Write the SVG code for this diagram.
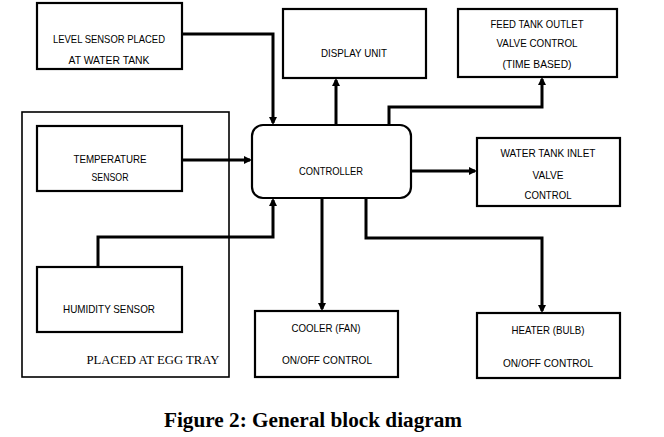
<svg xmlns="http://www.w3.org/2000/svg" width="664" height="437" viewBox="0 0 664 437">
<style>
.box{fill:#fff;stroke:#000;stroke-width:2.2}
.t{font-family:"Liberation Sans",Arial,sans-serif;font-size:10.5px;text-anchor:middle;fill:#000}
.c{fill:none;stroke:#000;stroke-width:3}
</style>
<defs>
<marker id="ah" markerWidth="8" markerHeight="8" refX="6" refY="4" orient="auto" markerUnits="userSpaceOnUse">
<path d="M0,0 L8,4 L0,8 Z" fill="#000"/>
</marker>
</defs>
<rect width="664" height="437" fill="#fff"/>
<g id="egg-tray">
<rect x="22" y="112" width="207" height="265" fill="none" stroke="#000" stroke-width="1.6"/>
<text x="153" y="364" font-family="Liberation Serif,serif" font-size="13" text-anchor="middle" fill="#000" textLength="133" lengthAdjust="spacingAndGlyphs">PLACED AT EGG TRAY</text>
</g>
<g id="level-sensor">
<rect class="box" x="37" y="3" width="145" height="66"/>
<text class="t" x="109" y="43" textLength="112" lengthAdjust="spacingAndGlyphs">LEVEL SENSOR PLACED</text>
<text class="t" x="109" y="64" textLength="81" lengthAdjust="spacingAndGlyphs">AT WATER TANK</text>
</g>
<g id="display-unit">
<rect class="box" x="283" y="9" width="143" height="69"/>
<text class="t" x="354" y="57" textLength="66" lengthAdjust="spacingAndGlyphs">DISPLAY UNIT</text>
</g>
<g id="feed-tank">
<rect class="box" x="458" y="9" width="159" height="68"/>
<text class="t" x="537" y="28" textLength="93" lengthAdjust="spacingAndGlyphs">FEED TANK OUTLET</text>
<text class="t" x="537" y="47" textLength="81" lengthAdjust="spacingAndGlyphs">VALVE CONTROL</text>
<text class="t" x="537" y="68" textLength="69" lengthAdjust="spacingAndGlyphs">(TIME BASED)</text>
</g>
<g id="temperature-sensor">
<rect class="box" x="37" y="126" width="145" height="65"/>
<text class="t" x="110" y="163" textLength="73" lengthAdjust="spacingAndGlyphs">TEMPERATURE</text>
<text class="t" x="110" y="181" textLength="37" lengthAdjust="spacingAndGlyphs">SENSOR</text>
</g>
<g id="controller">
<rect class="box" x="252" y="125" width="159" height="73" rx="11" ry="11"/>
<text class="t" x="331" y="175" textLength="64" lengthAdjust="spacingAndGlyphs">CONTROLLER</text>
</g>
<g id="water-tank-inlet">
<rect class="box" x="477" y="138" width="143" height="68"/>
<text class="t" x="548" y="157" textLength="95" lengthAdjust="spacingAndGlyphs">WATER TANK INLET</text>
<text class="t" x="548" y="179" textLength="31" lengthAdjust="spacingAndGlyphs">VALVE</text>
<text class="t" x="548" y="199" textLength="47" lengthAdjust="spacingAndGlyphs">CONTROL</text>
</g>
<g id="humidity-sensor">
<rect class="box" x="37" y="267" width="145" height="65"/>
<text class="t" x="109" y="313" textLength="92" lengthAdjust="spacingAndGlyphs">HUMIDITY SENSOR</text>
</g>
<g id="cooler">
<rect class="box" x="255" y="311" width="143" height="66"/>
<text class="t" x="326" y="332" textLength="69" lengthAdjust="spacingAndGlyphs">COOLER (FAN)</text>
<text class="t" x="327" y="364" textLength="90" lengthAdjust="spacingAndGlyphs">ON/OFF CONTROL</text>
</g>
<g id="heater">
<rect class="box" x="477" y="313" width="143" height="65"/>
<text class="t" x="548" y="334" textLength="73" lengthAdjust="spacingAndGlyphs">HEATER (BULB)</text>
<text class="t" x="548" y="367" textLength="90" lengthAdjust="spacingAndGlyphs">ON/OFF CONTROL</text>
</g>
<g id="connectors">
<polyline class="c" points="182,34 273,34 273,123" marker-end="url(#ah)"/>
<polyline class="c" points="336,125 336,80" marker-end="url(#ah)"/>
<polyline class="c" points="389,125 389,107 542,107 542,79" marker-end="url(#ah)"/>
<polyline class="c" points="182,160 250,160" marker-end="url(#ah)"/>
<polyline class="c" points="411,171 475,171" marker-end="url(#ah)"/>
<polyline class="c" points="98,267 98,237 273,237 273,200" marker-end="url(#ah)"/>
<polyline class="c" points="322,198 322,309" marker-end="url(#ah)"/>
<polyline class="c" points="366,198 366,238 542,238 542,311" marker-end="url(#ah)"/>
</g>
<text x="313" y="427" font-family="Liberation Serif,serif" font-weight="bold" font-size="20" text-anchor="middle" fill="#000" textLength="298" lengthAdjust="spacingAndGlyphs">Figure 2: General block diagram</text>
</svg>
